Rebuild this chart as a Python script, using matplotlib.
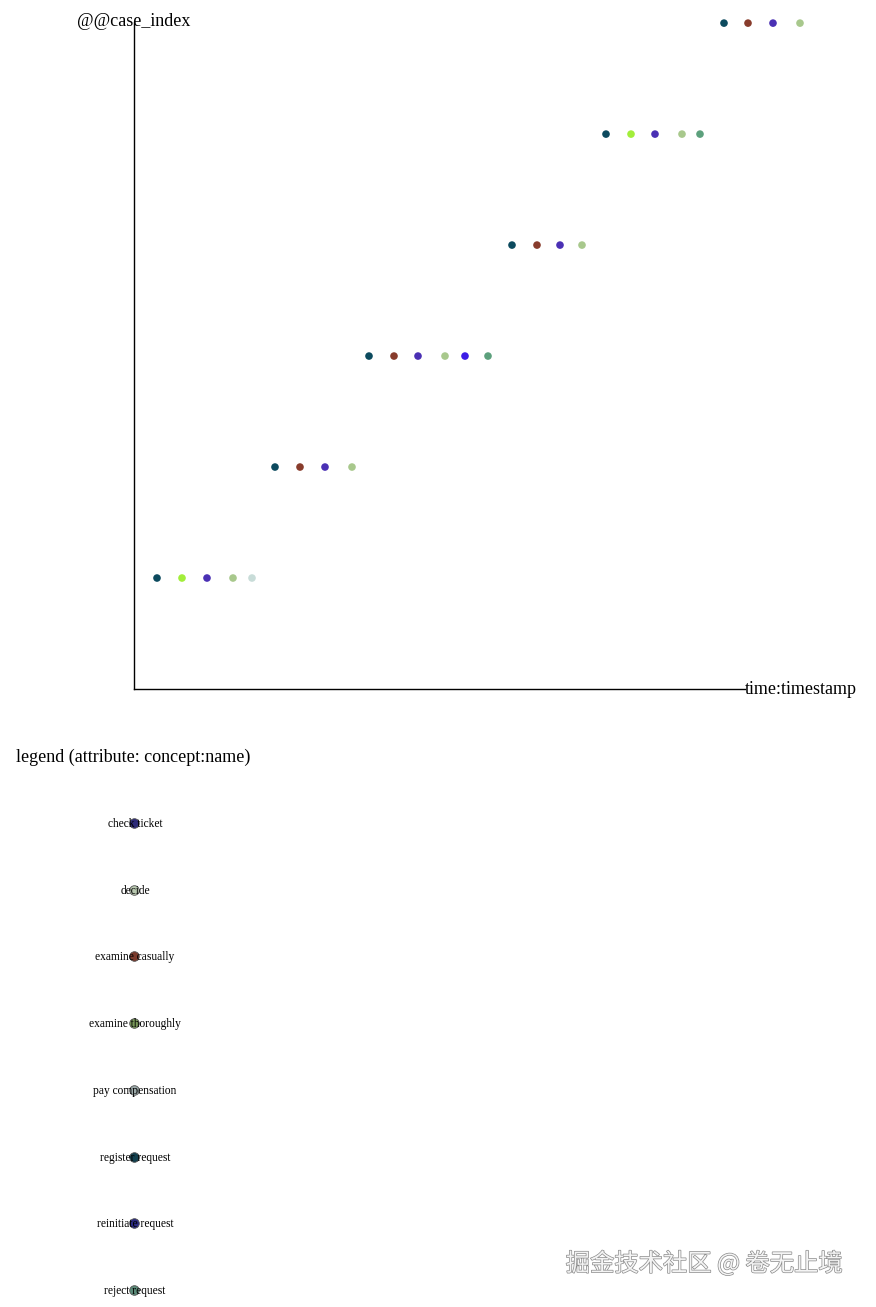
import matplotlib
matplotlib.use("Agg")
import matplotlib.pyplot as plt
import matplotlib.patheffects as pe

plt.rcParams['font.family'] = ['Liberation Serif', 'DejaVu Serif']

# ---- data ----
activities = ["check ticket", "decide", "examine casually", "examine thoroughly",
              "pay compensation", "register request", "reinitiate request", "reject request"]
act_colors = {
    "check ticket": "#4a30b4",
    "decide": "#a8c88c",
    "examine casually": "#883c2c",
    "examine thoroughly": "#a2ee3a",
    "pay compensation": "#c8dcd8",
    "register request": "#0c4a5e",
    "reinitiate request": "#3c1ce6",
    "reject request": "#5ca07c",
}
legend_marker_colors = ["#2c2a78", "#b8c8b0", "#7a3a2c", "#7a9a5a",
                        "#9aa8a8", "#12404e", "#2a2a80", "#5a8a78"]

case_index = [0, 1, 2, 3, 4, 5]
case_activities = [
    ["register request", "examine thoroughly", "check ticket", "decide", "pay compensation"],
    ["register request", "examine casually", "check ticket", "decide"],
    ["register request", "examine casually", "check ticket", "decide", "reinitiate request", "reject request"],
    ["register request", "examine casually", "check ticket", "decide"],
    ["register request", "examine thoroughly", "check ticket", "decide", "reject request"],
    ["register request", "examine casually", "check ticket", "decide"],
]
# timestamps (hours from start)
case_times = [
    [2.3, 4.8, 7.3, 9.9, 11.8],
    [14.1, 16.6, 19.1, 21.8],
    [23.5, 26.0, 28.4, 31.1, 33.1, 35.4],
    [37.8, 40.3, 42.6, 44.8],
    [47.2, 49.7, 52.1, 54.8, 56.6],
    [59.0, 61.4, 63.9, 66.6],
]

W, H = 876, 1307
fig = plt.figure(figsize=(W / 100, H / 100), dpi=100)

# main dotted chart axes
x0, x1 = 134, 745
y_top, y_bot = 22, 689
ax = fig.add_axes([x0 / W, 1 - y_bot / H, (x1 - x0) / W, (y_bot - y_top) / H])
for ci, acts, times in zip(case_index, case_activities, case_times):
    ax.scatter(times, [ci] * len(times), s=30, c=[act_colors[a] for a in acts],
               linewidths=0, zorder=3, clip_on=False)
ax.set_xlim(0, (x1 - x0) / 10)
ax.set_ylim(-1, 5.01)
ax.spines['top'].set_visible(False)
ax.spines['right'].set_visible(False)
ax.spines['left'].set_linewidth(1.0)
ax.spines['bottom'].set_linewidth(1.0)
ax.set_xticks([])
ax.set_yticks([])
ax.patch.set_alpha(0)

fig.text(134 / W, 1 - 22 / H, "@@case_index", ha='center', va='center', fontsize=13)
fig.text(801 / W, 1 - 690 / H, "time:timestamp", ha='center', va='center', fontsize=13)

# legend
axl = fig.add_axes([0, 0, 1, 1], zorder=-1)
axl.set_xlim(0, W)
axl.set_ylim(H, 0)
axl.axis('off')
axl.text(133, 757, "legend (attribute: concept:name)", ha='center', va='center', fontsize=13)
for i, (a, col) in enumerate(zip(activities, legend_marker_colors)):
    y = 823 + i * 66.7
    axl.scatter([134], [y], s=48, c=[col], edgecolors="#555555", linewidths=0.6, zorder=2)
    axl.text(135, y + 1, a, ha='center', va='center', fontsize=8.3, zorder=3)

# watermark
fig.text(704 / W, 1 - 1264 / H, "掘金技术社区 @ 卷无止境", ha='center', va='center',
         fontsize=17.5, color='#f4f4f4', family=['Noto Sans CJK SC', 'DejaVu Sans'],
         path_effects=[pe.withStroke(linewidth=1.0, foreground='#8a8a8a')])

fig.savefig("out.png", dpi=100)
